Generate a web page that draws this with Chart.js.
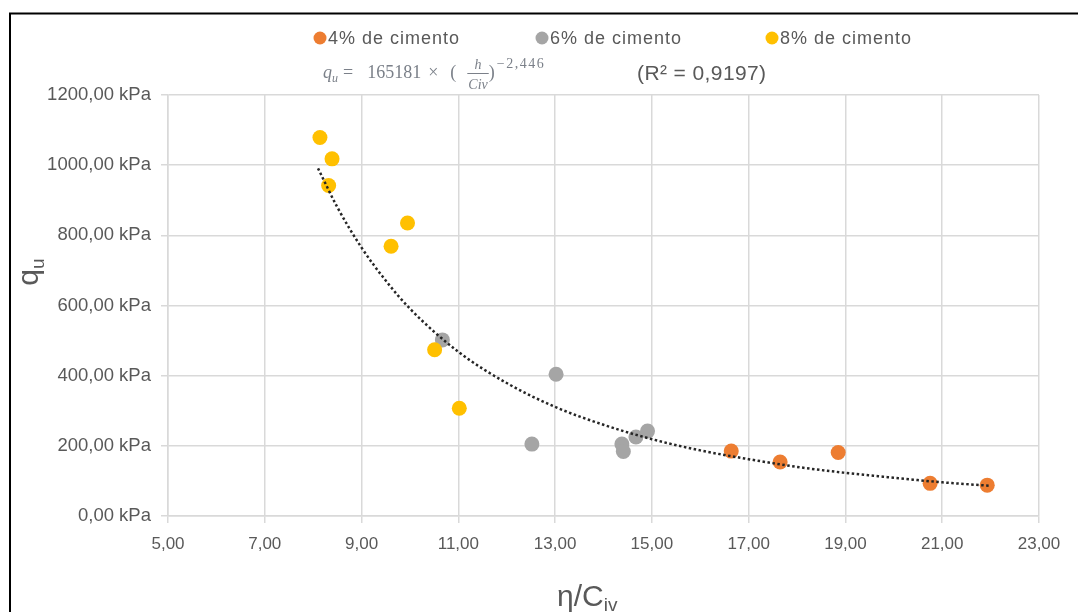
<!DOCTYPE html>
<html>
<head>
<meta charset="utf-8">
<script src="https://cdn.jsdelivr.net/npm/chart.js@4.4.1/dist/chart.umd.min.js"></script>
<style>
  html, body { margin: 0; padding: 0; background: #fff; }
  #wrap { width: 1078px; height: 612px; position: relative; }
</style>
</head>
<body>
<div id="wrap"><canvas id="chart"></canvas></div>
<script>
// qu (kPa) against eta/Civ, one array pair per cement content
const x4 = [16.64, 17.65, 18.85, 20.75, 21.93];
const q4 = [185, 154, 181, 93, 88];
const x6 = [10.67, 13.02, 12.52, 14.38, 14.41, 14.67, 14.91];
const q6 = [502, 404, 205, 205, 184, 225, 242];
const x8 = [8.14, 8.39, 8.32, 9.95, 9.61, 10.51, 11.02];
const q8 = [1079, 1018, 942, 835, 769, 474, 307];

// dotted power trendline
const trendX = [8.1, 8.5, 9, 9.5, 10, 11, 12, 13, 14, 15, 16, 17, 18, 19, 20, 21, 22];
const trendQ = [991, 880, 765, 671, 591, 468, 379, 311, 260, 219, 187, 162, 140, 123, 109, 96, 86];

const seriesLabels = ['4% de cimento', '6% de cimento', '8% de cimento'];
const seriesColors = ['#ED7D31', '#A5A5A5', '#FFC000'];
const xTicks = [5, 7, 9, 11, 13, 15, 17, 19, 21, 23];
const yTicks = [0, 200, 400, 600, 800, 1000, 1200];

const toPoints = (xs, ys) => xs.map((x, i) => ({ x, y: ys[i] }));
const fmt = (v) => v.toFixed(2).replace('.', ',');

const TEXT = '#595959';
const GRID = '#d9d9d9';
const SANS = '"Liberation Sans", Arial, sans-serif';
const SERIF = '"Liberation Serif", "Times New Roman", serif';
const legendX = [313, 535, 765];

// draws a run of [text, font, dy, gapBefore, spacing] pieces left to right
const drawRun = (ctx, x, y, parts, color) => {
  ctx.fillStyle = color;
  ctx.textAlign = 'left';
  ctx.textBaseline = 'alphabetic';
  parts.forEach(([text, font, dy, gap, spacing]) => {
    x += gap || 0;
    ctx.font = font;
    ctx.letterSpacing = (spacing || 0) + 'px';
    ctx.fillText(text, x, y + (dy || 0));
    x += ctx.measureText(text).width;
  });
  ctx.letterSpacing = '0px';
  return x;
};

const decorations = {
  id: 'decorations',
  beforeDraw(chart) {
    const ctx = chart.ctx;
    ctx.save();
    ctx.strokeStyle = '#000';
    ctx.lineWidth = 2;
    ctx.beginPath();
    ctx.moveTo(10, 612);
    ctx.lineTo(10, 13.5);
    ctx.lineTo(1078, 13.5);
    ctx.stroke();
    ctx.restore();
  },
  afterDraw(chart) {
    const ctx = chart.ctx;
    ctx.save();

    // legend
    seriesLabels.forEach((label, i) => {
      const x0 = legendX[i];
      ctx.fillStyle = seriesColors[i];
      ctx.beginPath();
      ctx.arc(x0 + 7, 38, 6.5, 0, Math.PI * 2);
      ctx.fill();
      drawRun(ctx, x0 + 15, 44, [[label, '18px ' + SANS, 0, 0, 1]], TEXT);
    });

    // trendline equation
    const eqColor = '#7b8089';
    let x = drawRun(ctx, 323, 78, [
      ['q', 'italic 18px ' + SERIF],
      ['u', 'italic 12px ' + SERIF, 4],
      ['=', '18px ' + SERIF, 0, 5],
      ['165181', '18px ' + SERIF, 0, 14],
      ['×', '18px ' + SERIF, 0, 7],
      ['(', '18px ' + SERIF, 0, 12],
    ], eqColor);
    x += 11;
    ctx.font = 'italic 14px ' + SERIF;
    const denW = ctx.measureText('Civ').width + 2;
    ctx.strokeStyle = eqColor;
    ctx.lineWidth = 1;
    ctx.beginPath();
    ctx.moveTo(x, 73.5);
    ctx.lineTo(x + denW, 73.5);
    ctx.stroke();
    ctx.textAlign = 'center';
    ctx.fillStyle = eqColor;
    ctx.fillText('h', x + denW / 2, 69);
    ctx.fillText('Civ', x + denW / 2, 89);
    x += denW;
    drawRun(ctx, x, 78, [
      [')', '18px ' + SERIF],
      ['−2,446', '14px ' + SERIF, -10, 2, 1.5],
    ], eqColor);

    drawRun(ctx, 637, 80, [['(R² = 0,9197)', '21px ' + SANS, 0, 0, 0.4]], TEXT);

    // axis titles
    ctx.translate(38, 272);
    ctx.rotate(-Math.PI / 2);
    ctx.font = '30px ' + SANS;
    const qW = ctx.measureText('q').width;
    ctx.font = '19px ' + SANS;
    const uW = ctx.measureText('u').width;
    drawRun(ctx, -(qW + uW) / 2, 0, [
      ['q', '30px ' + SANS],
      ['u', '19px ' + SANS, 6],
    ], TEXT);
    ctx.setTransform(1, 0, 0, 1, 0, 0);

    drawRun(ctx, 557, 606, [
      ['η/C', '30px ' + SANS],
      ['iv', '19px ' + SANS, 5],
    ], TEXT);

    ctx.restore();
  }
};

const scatter = (idx) => ({
  type: 'scatter',
  label: seriesLabels[idx],
  data: toPoints([x4, x6, x8][idx], [q4, q6, q8][idx]),
  backgroundColor: seriesColors[idx],
  borderWidth: 0,
  pointRadius: 7.5,
  pointHoverRadius: 7.5,
  order: 3 - idx,
});

new Chart(document.getElementById('chart'), {
  type: 'scatter',
  data: {
    datasets: [
      scatter(0),
      scatter(1),
      scatter(2),
      {
        type: 'line',
        label: 'Trend',
        data: toPoints(trendX, trendQ),
        borderColor: '#262626',
        borderWidth: 2.5,
        borderDash: [2.5, 2.5],
        pointRadius: 0,
        fill: false,
        cubicInterpolationMode: 'monotone',
        order: 0,
      },
    ],
  },
  options: {
    responsive: true,
    maintainAspectRatio: false,
    animation: false,
    layout: { padding: { top: 95, right: 39, left: 0, bottom: 0 } },
    plugins: {
      legend: { display: false },
      tooltip: { enabled: false },
    },
    scales: {
      x: {
        type: 'linear',
        min: 5,
        max: 23,
        afterBuildTicks: (s) => { s.ticks = xTicks.map((v) => ({ value: v })); },
        afterFit: (s) => { s.height = 96; },
        grid: { color: GRID, lineWidth: 1.5, tickLength: 7 },
        border: { color: GRID, width: 1.5 },
        ticks: {
          color: TEXT,
          padding: 11,
          font: { family: SANS, size: 17 },
          callback: (v) => fmt(v),
        },
      },
      y: {
        min: 0,
        max: 1200,
        afterBuildTicks: (s) => { s.ticks = yTicks.map((v) => ({ value: v })); },
        afterFit: (s) => { s.width = 168; },
        grid: { color: GRID, lineWidth: 1.5, tickLength: 7 },
        border: { color: GRID, width: 1.5 },
        ticks: {
          color: TEXT,
          padding: 10,
          font: { family: SANS, size: 18.5 },
          callback: (v) => fmt(v) + ' kPa',
        },
      },
    },
  },
  plugins: [decorations],
});
</script>
</body>
</html>
